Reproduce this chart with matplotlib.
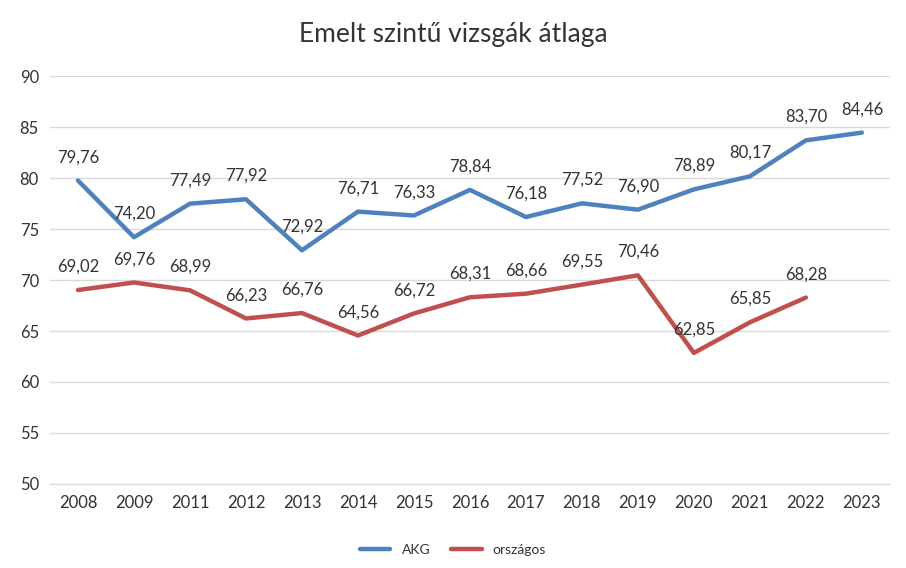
import matplotlib.pyplot as plt

plt.rcParams['font.family'] = ['Lato', 'DejaVu Sans']

years = ['2008', '2009', '2011', '2012', '2013', '2014', '2015', '2016',
         '2017', '2018', '2019', '2020', '2021', '2022', '2023']
akg = [79.76, 74.20, 77.49, 77.92, 72.92, 76.71, 76.33, 78.84,
       76.18, 77.52, 76.90, 78.89, 80.17, 83.70, 84.46]
orszagos = [69.02, 69.76, 68.99, 66.23, 66.76, 64.56, 66.72, 68.31,
            68.66, 69.55, 70.46, 62.85, 65.85, 68.28]

blue = '#4F81BD'
red = '#C0504D'

fig = plt.figure(figsize=(9.06, 5.68), dpi=100)
ax = fig.add_axes([0.0552, 0.148, 0.927, 0.718])

x = list(range(len(years)))
ax.plot(x, akg, color=blue, lw=3.2, label='AKG', solid_capstyle='round')
ax.plot(x[:len(orszagos)], orszagos, color=red, lw=3.2, label='országos',
        solid_capstyle='round')

for i, v in enumerate(akg):
    ax.annotate(f'{v:.2f}'.replace('.', ','), (i, v), xytext=(0, 11),
                textcoords='offset points', ha='center', va='bottom',
                fontsize=12, color='#333333')
for i, v in enumerate(orszagos):
    ax.annotate(f'{v:.2f}'.replace('.', ','), (i, v), xytext=(0, 11),
                textcoords='offset points', ha='center', va='bottom',
                fontsize=12, color='#333333')

ax.set_xlim(-0.5, len(years) - 0.5)
ax.set_ylim(50, 90)
ax.set_yticks(range(50, 91, 5))
ax.set_xticks(x)
ax.set_xticklabels(years)
ax.grid(axis='y', color='#D9D9D9', lw=1)
ax.set_axisbelow(True)
for s in ['top', 'right', 'left']:
    ax.spines[s].set_visible(False)
ax.spines['bottom'].set_color('#D9D9D9')
ax.tick_params(length=0, labelsize=12, colors='#333333', pad=8)

fig.suptitle('Emelt szintű vizsgák átlaga', y=0.962, fontsize=19, color='#333333')
fig.legend(loc='lower center', bbox_to_anchor=(0.5, 0.0), ncol=2, frameon=False,
           fontsize=10, labelcolor='#333333', handlelength=2.2, columnspacing=1.5)

plt.savefig('out.png', dpi=100)
